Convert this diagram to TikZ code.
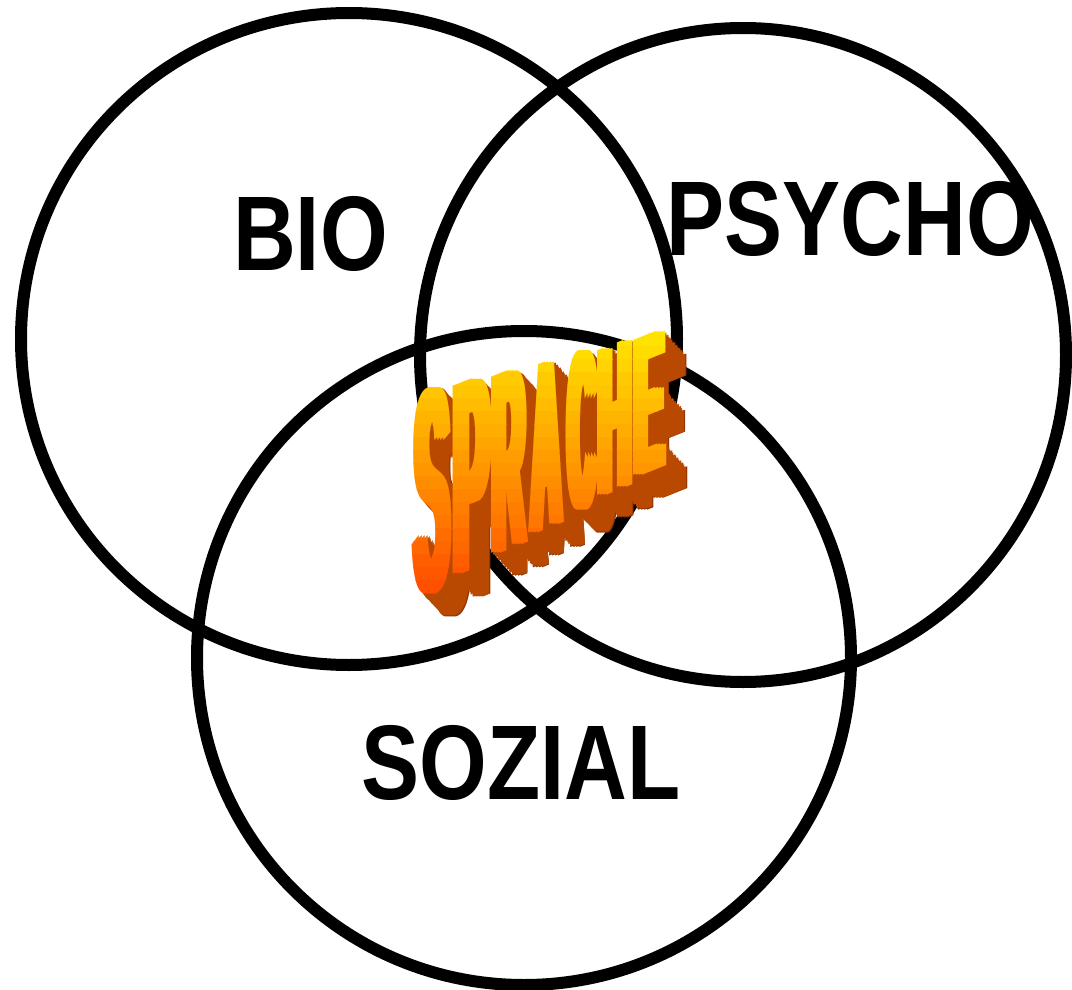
\documentclass[tikz,border=0pt]{standalone}
\usepackage{fontspec}
\setmainfont{Liberation Sans}
\definecolor{sprylw}{RGB}{255,232,0}
\definecolor{sprred}{RGB}{255,64,0}
\definecolor{extr}{RGB}{185,72,0}
\definecolor{extrdark}{RGB}{140,50,0}
\tikzset{
  ring/.style={draw=black, line width=12pt},
  lbl/.style={font=\fontsize{87}{87}\selectfont\bfseries, yscale=1.22, anchor=base, inner sep=0pt},
  glyph/.style={font=\fontsize{100}{100}\selectfont\bfseries, anchor=base, inner sep=0pt}
}
\newcommand\sprword[3]{%
  \foreach \c/\px/\py/\sx/\sy in {S/432.5/590.3/0.517/2.9, P/471.5/568.8/0.536/2.73, R/509.5/547.9/0.444/2.56, A/547/527.3/0.403/2.39, C/582/508.1/0.371/2.25, H/615.5/489.6/0.448/2.1, E/649/471.2/0.434/1.96}{%
    \foreach \o in {-4.5,-1.5,1.5,4.5}{%
      \node[glyph, text=#1, yslant=0.4, xscale=\sx, yscale=\sy] (sp-\c) at (\px+\o+#2, \py+#3) {\c};
    }%
  }%
}
\begin{document}
\begin{tikzpicture}[x=1pt,y=-1pt]
\useasboundingbox (0,0) rectangle (1072,990);
\fill[white] (0,0) rectangle (1072,990);
\draw[ring] (349,339) ellipse [x radius=328, y radius=326];
\draw[ring] (743,355) ellipse [x radius=323, y radius=327];
\draw[ring] (524,658) ellipse [x radius=327, y radius=327];
\node[lbl] (bio) at (310.5,270) {BIO};
\node[lbl] (psycho) at (850,255) {PSYCHO};
\node[lbl] (sozial) at (521,799) {SOZIAL};
\sprword{extrdark}{21}{23}
\foreach \k in {13,12,...,1}{\sprword{extr}{\k*1.55}{\k*1.7}}
\foreach \i in {0,...,23}{%
  \pgfmathsetmacro\ya{320+\i*13}%
  \pgfmathsetmacro\yb{\ya+13.5}%
  \pgfmathtruncatemacro\p{max(0,min(100,((\ya+6.5-330)/280)*100))}%
  \colorlet{bandc}{sprred!\p!sprylw}%
  \begin{scope}
    \clip (380,\ya) rectangle (720,\yb);
    \sprword{bandc}{0}{0}
  \end{scope}
}
\end{tikzpicture}
\end{document}
